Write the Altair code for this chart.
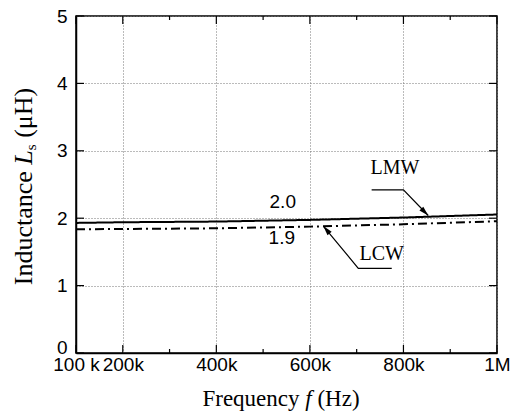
import altair as alt
import pandas as pd

# ---------------- data ----------------
freq_hz = [100000, 200000, 400000, 600000, 800000, 1000000]
lmw_uh = [1.93, 1.94, 1.95, 1.975, 2.01, 2.055]
lcw_uh = [1.835, 1.84, 1.85, 1.875, 1.91, 1.955]

x_tick_values = [100000, 200000, 400000, 600000, 800000, 1000000]
x_tick_labels = ["100 k", "200k", "400k", "600k", "800k", "1M"]
x_minor_values = [300000, 500000, 700000, 900000]
y_tick_values = [0, 1, 2, 3, 4, 5]

value_labels = ["2.0", "1.9"]
value_label_x = [542000, 540000]
value_label_y = [2.245, 1.71]

series_labels = ["LMW", "LCW"]
series_label_x = [782000, 753600]
series_label_y = [2.74, 1.47]

arrow_ids = ["LMW", "LMW", "LMW", "LCW", "LCW", "LCW"]
arrow_order = [0, 1, 2, 0, 1, 2]
arrow_x = [732000, 800000, 853000, 775000, 703500, 628700]
arrow_y = [2.42, 2.42, 2.04, 1.257, 1.257, 1.884]
arrow_tip_x = [853000, 628700]
arrow_tip_y = [2.04, 1.884]
arrow_tip_angle = [135, 320]

# ---------------- layout ----------------
W, H = 421, 337
SANS = "Liberation Sans"
SERIF = "Liberation Serif"

# Times-like advance widths (per 1000 em) for title composition
REG = {"I": 333, "n": 500, "d": 500, "u": 500, "c": 444, "t": 278, "a": 444,
       "e": 444, " ": 250, "(": 333, ")": 333, "μ": 576, "H": 722, "F": 556,
       "r": 333, "q": 500, "y": 500, "z": 444, "s": 389}
ITA = {"L": 556, "f": 278}


def tw(s, fs, table):
    return sum(table.get(c, 500) for c in s) / 1000.0 * fs


xs = alt.Scale(domain=[100000, 1000000], nice=False, zero=False)
ys = alt.Scale(domain=[0, 5], nice=False, zero=True)

label_expr = "''"
for v, l in reversed(list(zip(x_tick_values, x_tick_labels))):
    label_expr = f"datum.value == {v} ? '{l}' : " + label_expr

common_axis = dict(
    title=None, ticks=False, grid=True, gridDash=[1, 2], gridColor="#777777",
    gridWidth=1, domainColor="black", domainWidth=1.5, labelFont=SANS,
    labelFontSize=19, labelColor="black", labelOverlap=False, labelFlush=False,
)
xaxis = alt.Axis(values=x_tick_values, labelExpr=label_expr, labelPadding=2, **common_axis)
yaxis = alt.Axis(
    values=y_tick_values, format="d", labelPadding=9,
    labelBaseline={"condition": {"test": "datum.value == 0", "value": "alphabetic"}, "value": "middle"},
    **common_axis,
)

df_lines = pd.DataFrame({
    "f": freq_hz + freq_hz,
    "L": lmw_uh + lcw_uh,
    "s": ["LMW"] * len(freq_hz) + ["LCW"] * len(freq_hz),
})

lines = alt.Chart(df_lines).mark_line(color="black", strokeWidth=2).encode(
    x=alt.X("f:Q", scale=xs, axis=xaxis),
    y=alt.Y("L:Q", scale=ys, axis=yaxis),
    strokeDash=alt.StrokeDash("s:N", scale=alt.Scale(domain=["LMW", "LCW"], range=[[1, 0], [9, 4, 2, 4]]), legend=None),
)

df_xt = pd.DataFrame({"f": x_tick_values})
df_xm = pd.DataFrame({"f": x_minor_values})
df_yt = pd.DataFrame({"L": y_tick_values})

tick_layers = [
    alt.Chart(df_xt).mark_rule(color="black", strokeWidth=1.2).encode(x="f:Q", y=alt.value(H), y2=alt.value(H - 8)),
    alt.Chart(df_xt).mark_rule(color="black", strokeWidth=1.2).encode(x="f:Q", y=alt.value(0), y2=alt.value(8)),
    alt.Chart(df_xm).mark_rule(color="black", strokeWidth=1.2).encode(x="f:Q", y=alt.value(H), y2=alt.value(H - 4)),
    alt.Chart(df_xm).mark_rule(color="black", strokeWidth=1.2).encode(x="f:Q", y=alt.value(0), y2=alt.value(4)),
    alt.Chart(df_yt).mark_rule(color="black", strokeWidth=1.2).encode(y="L:Q", x=alt.value(0), x2=alt.value(8)),
    alt.Chart(df_yt).mark_rule(color="black", strokeWidth=1.2).encode(y="L:Q", x=alt.value(W), x2=alt.value(W - 8)),
]

df_vl = pd.DataFrame({"f": value_label_x, "L": value_label_y, "t": value_labels})
vlabels = alt.Chart(df_vl).mark_text(font=SANS, fontSize=19, color="black").encode(
    x="f:Q", y="L:Q", text="t:N")

df_sl = pd.DataFrame({"f": series_label_x, "L": series_label_y, "t": series_labels})
slabels = alt.Chart(df_sl).mark_text(font=SERIF, fontSize=20, color="black").encode(
    x="f:Q", y="L:Q", text="t:N")

df_arrow = pd.DataFrame({"f": arrow_x, "L": arrow_y, "id": arrow_ids, "o": arrow_order})
arrows = alt.Chart(df_arrow).mark_line(color="black", strokeWidth=1.2).encode(
    x="f:Q", y="L:Q", detail="id:N", order="o:Q")

df_tip = pd.DataFrame({"f": arrow_tip_x, "L": arrow_tip_y, "a": arrow_tip_angle})
tips = alt.Chart(df_tip).mark_point(
    shape="M0,0L-0.28,1L0.28,1Z", filled=True, color="black", size=380, opacity=1, strokeWidth=0
).encode(x="f:Q", y="L:Q", angle=alt.Angle("a:Q", scale=None))

# ---- composed axis titles ----
dummy = pd.DataFrame({"k": [0]})
title_layers = []

# x title: "Frequency f (Hz)"
fsx = 23
xparts = [("Frequency ", "normal", fsx, REG), ("f", "italic", fsx, ITA), (" (Hz)", "normal", fsx, REG)]
total = sum(tw(s, fs, tb) for s, st, fs, tb in xparts)
cx = 205
px = cx - total / 2
for s, st, fs, tb in xparts:
    lead = tw(s[: len(s) - len(s.lstrip())], fs, tb)
    title_layers.append(
        alt.Chart(dummy).mark_text(text=s.strip(), font=SERIF, fontSize=fs, fontStyle=st, color="black",
                                   align="left", baseline="alphabetic")
        .encode(x=alt.value(px + lead), y=alt.value(390))
    )
    px += tw(s, fs, tb)

# y title: "Inductance L_s (μH)"
fsy = 26
yparts = [("Inductance ", "normal", fsy, REG, 0), ("L", "italic", fsy, ITA, 0),
          ("s", "normal", 15, REG, 4), (" (μH)", "normal", fsy, REG, 0)]
total = sum(tw(s, fs, tb) for s, st, fs, tb, d in yparts)
cy = 170
py = cy + total / 2
for s, st, fs, tb, d in yparts:
    lead = tw(s[: len(s) - len(s.lstrip())], fs, tb)
    title_layers.append(
        alt.Chart(dummy).mark_text(text=s.strip(), font=SERIF, fontSize=fs, fontStyle=st, color="black",
                                   align="left", baseline="alphabetic", angle=270)
        .encode(x=alt.value(-44 + d), y=alt.value(py - lead))
    )
    py -= tw(s, fs, tb)

chart = alt.layer(lines, *tick_layers, arrows, tips, vlabels, slabels, *title_layers).properties(
    width=W, height=H,
    autosize=alt.AutoSizeParams(type="none"),
    padding={"left": 68, "top": 8, "right": 14, "bottom": 64},
).configure_view(stroke="black", strokeWidth=1.5)

chart.save("out.html", embed_options={"renderer": "svg", "actions": False})
